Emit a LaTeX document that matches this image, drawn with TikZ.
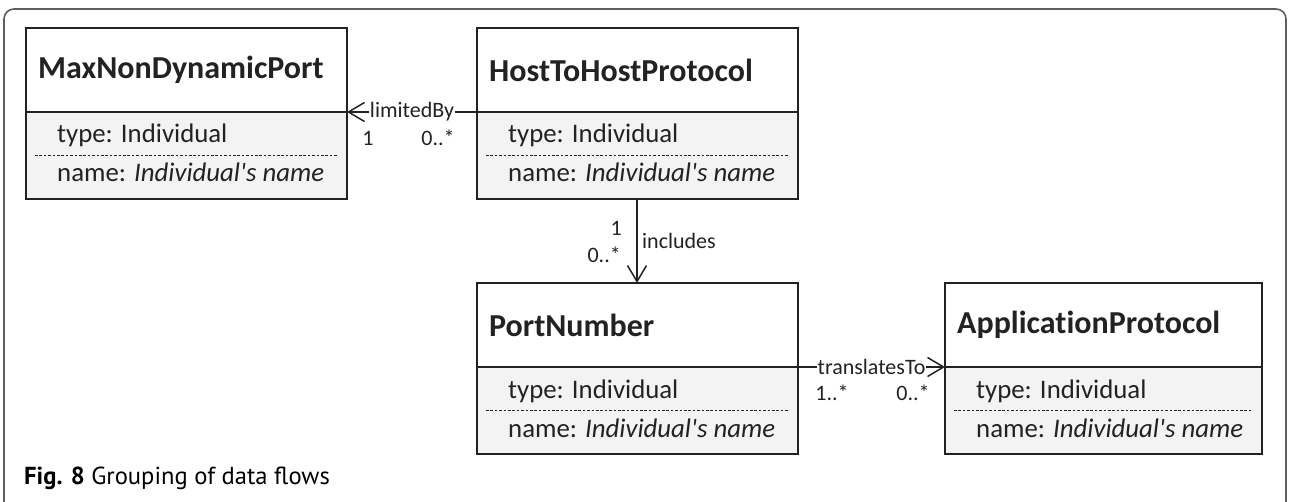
\documentclass[tikz,border=0pt]{standalone}
\usepackage{fontspec}
\setmainfont{Carlito}[Ligatures={NoCommon}]
\newfontfamily\captionfont{PT Sans}
\usetikzlibrary{arrows.meta}

\definecolor{boxline}{HTML}{222222}
\definecolor{lowfill}{HTML}{F3F3F3}
\definecolor{framegray}{HTML}{5E5E5E}

\tikzset{
  classbox/.style={draw=boxline, line width=1.8pt, rectangle, inner sep=0pt, outer sep=0pt},
  divider/.style={draw=boxline, line width=1.8pt},
  dashsep/.style={draw=boxline, line width=0.9pt, dash pattern=on 2.6pt off 1.8pt},
  titletext/.style={font=\fontsize{32}{37}\selectfont\bfseries, text=boxline, inner sep=0pt},
  bodytext/.style={font=\fontsize{26.8}{30}\selectfont, text=boxline, inner sep=0pt},
  edgelabel/.style={font=\fontsize{22}{26}\selectfont, text=boxline, fill=white, inner sep=1pt},
  multlabel/.style={font=\fontsize{22}{26}\selectfont, text=boxline, inner sep=0pt},
  assoc/.style={draw=boxline, line width=1.5pt, -{Straight Barb[length=16pt,width=19pt,line width=1.5pt]}},
  captext/.style={anchor=base west, inner sep=0pt, font=\captionfont\fontsize{24.6}{28}\selectfont},
}

% one UML class: id, left x, top y, width, title
\newcommand{\umlclass}[5]{%
  \fill[lowfill] (#2,{#3+84}) rectangle ({#2+#4},{#3+171});
  \node[classbox, minimum width=#4pt, minimum height=171pt, anchor=north west] (#1) at (#2,#3) {};
  \coordinate (#1-dw) at (#2,{#3+84});
  \coordinate (#1-de) at ({#2+#4},{#3+84});
  \draw[divider] (#1-dw) -- (#1-de);
  \draw[dashsep] ({#2+9},{#3+127}) -- ({#2+#4-9},{#3+127});
  \node[titletext, anchor=west] (#1-title) at ({#2+12},{#3+42}) {#5};
  \node[bodytext, anchor=base west] (#1-type) at ({#2+31},{#3+115}) {type: Individual};
  \node[bodytext, anchor=base west] (#1-name) at ({#2+31},{#3+154}) {name: \textit{Individual\textquotesingle s name}};
}

\begin{document}
\begin{tikzpicture}[x=1pt, y=-1pt]
  \useasboundingbox (0,0) rectangle (1290,502);

  % outer figure frame, open at the bottom
  \draw[framegray, line width=1.6pt, rounded corners=10pt] (4,502) -- (4,9) -- (1286,9) -- (1286,502);

  \umlclass{mndp}{26}{28}{321}{MaxNonDynamicPort}
  \umlclass{hthp}{477}{28}{321}{HostToHostProtocol}
  \umlclass{port}{477}{283}{321}{PortNumber}
  \umlclass{appp}{945}{283}{317}{ApplicationProtocol}

  % limitedBy
  \draw[assoc] (hthp-dw) -- node[edgelabel] (lbl-limited) {limitedBy} (mndp-de);
  \node[multlabel] (m-lim-1) at (368,138) {1};
  \node[multlabel] (m-lim-0) at (438,138) {0..*};

  % includes
  \coordinate (inc-top) at (637,199);
  \coordinate (inc-bot) at (637,283);
  \draw[assoc] (inc-top) -- (inc-bot);
  \node[multlabel, anchor=east] (m-inc-1) at (622,228) {1};
  \node[multlabel, anchor=east] (m-inc-0) at (621,255) {0..*};
  \node[multlabel, anchor=west] (lbl-inc) at (642,241) {includes};

  % translatesTo
  \draw[assoc] (port-de) -- node[edgelabel] (lbl-trans) {translatesTo} (appp-dw);
  \node[multlabel] (m-tr-1) at (832,393) {1..*};
  \node[multlabel] (m-tr-0) at (913,393) {0..*};

  % caption
  \node[captext] (cap) at (24,484) {\textbf{Fig. 8} Grouping of data flows};
\end{tikzpicture}
\end{document}
